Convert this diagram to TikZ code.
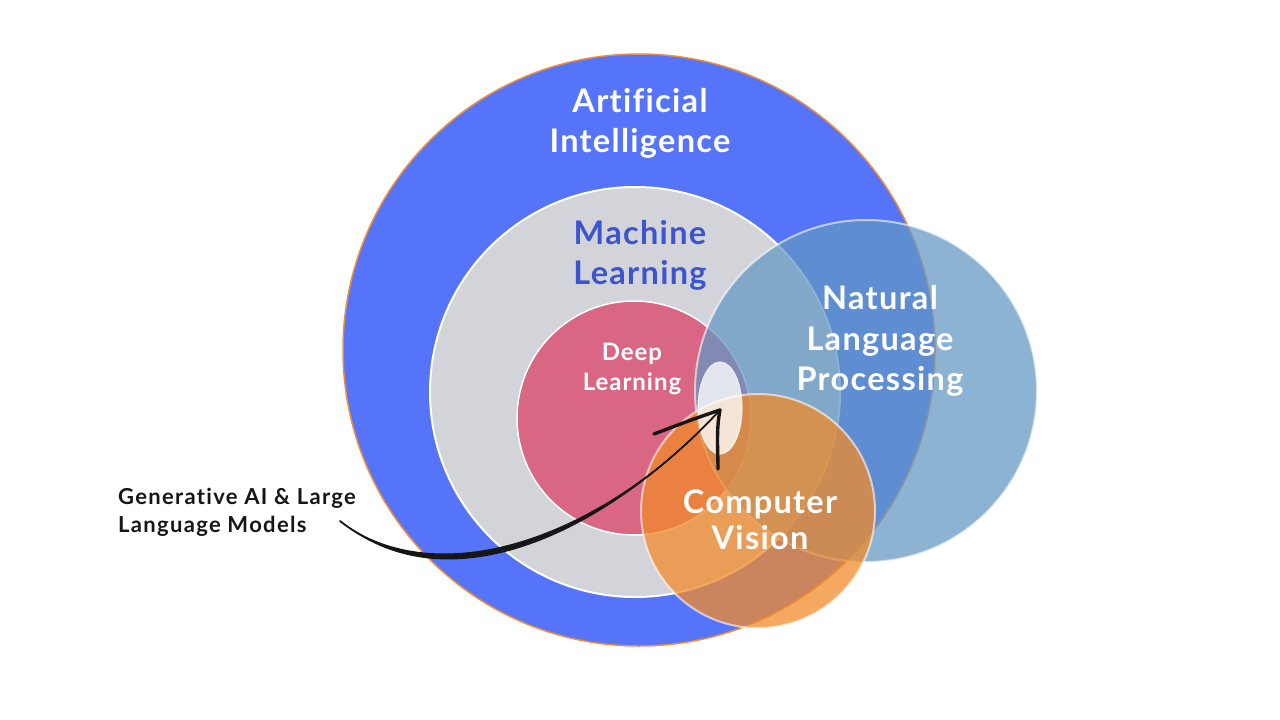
\documentclass[tikz,border=0pt]{standalone}
\usepackage{fontspec}
\setmainfont{Lato}
\newfontfamily\labelfont[LetterSpace=4,Ligatures={NoCommon}]{Lato}
\newfontfamily\genfont[LetterSpace=6,Ligatures={NoCommon}]{Lato}
\definecolor{aiblue}{RGB}{86,116,249}
\definecolor{aiedge}{RGB}{238,140,60}
\definecolor{mlgray}{RGB}{211,212,217}
\definecolor{dlpink}{RGB}{217,102,130}
\definecolor{nlpblue}{RGB}{99,151,196}
\definecolor{cvorange}{RGB}{241,139,43}
\definecolor{mltext}{RGB}{60,84,208}
\definecolor{ink}{RGB}{22,22,22}
\tikzset{
  bigtext/.style={font=\labelfont\bfseries\fontsize{32.5}{38}\selectfont, text=white, anchor=base, inner sep=0pt},
  mltextstyle/.style={bigtext, text=mltext},
  dltext/.style={font=\labelfont\bfseries\fontsize{24}{28}\selectfont, text=white, anchor=base, inner sep=0pt},
  gentext/.style={font=\genfont\bfseries\fontsize{22}{26}\selectfont, text=ink, anchor=base west, inner sep=0pt},
  brush/.style={line width=3.4pt, draw=ink, line cap=round, line join=round},
}
\begin{document}
\begin{tikzpicture}[x=1pt,y=-1pt]
\useasboundingbox (0,0) rectangle (1280,720);
\fill[white] (0,0) rectangle (1280,720);
% circles
\draw[draw=aiedge, line width=1.5pt, fill=aiblue] (639,350) circle[radius=296pt];
\draw[draw=white, line width=2pt, fill=mlgray] (635,392) circle[radius=205pt];
\draw[draw=white, line width=1.5pt, fill=dlpink] (634,418) circle[radius=117pt];
\draw[draw=white, draw opacity=0.6, line width=2pt, fill=nlpblue, fill opacity=0.73] (866,391) circle[radius=171pt];
\draw[draw=white, draw opacity=0.6, line width=2pt, fill=cvorange, fill opacity=0.75] (758,511) circle[radius=117pt];
\draw[draw=white, draw opacity=0.7, line width=1.2pt, fill=white, fill opacity=0.78] (720,408) ellipse[x radius=22pt, y radius=46pt];
% labels
\node[bigtext] (ai1) at (640,112) {Artificial};
\node[bigtext] (ai2) at (640,152) {Intelligence};
\node[mltextstyle] (ml1) at (640,244) {Machine};
\node[mltextstyle] (ml2) at (640,284) {Learning};
\node[dltext] (dl1) at (632,360) {Deep};
\node[dltext] (dl2) at (632,390) {Learning};
\node[bigtext] (nlp1) at (880,309) {Natural};
\node[bigtext] (nlp2) at (880,350) {Language};
\node[bigtext] (nlp3) at (880,390) {Processing};
\node[bigtext] (cv1) at (760,513) {Computer};
\node[bigtext] (cv2) at (760,549) {Vision};
\node[gentext] (gen1) at (118,504) {Generative AI \& Large};
\node[gentext] (gen2) at (118,532) {Language Models};
% arrow
\coordinate (arrowstart) at (340,521);
\coordinate (arrowtip) at (720,410);
\coordinate (barbleft) at (654,434);
\coordinate (barbdown) at (718,469);
\fill[ink] (arrowstart) .. controls (440,595) and (603,536) .. (arrowtip)
   .. controls (597,544) and (440,605) .. (arrowstart) -- cycle;
\draw[brush, line width=1.8pt] (arrowstart) .. controls (440,600) and (600,540) .. (arrowtip);
\draw[brush] (arrowtip) .. controls (690,420) and (670,428) .. (barbleft);
\draw[brush] (arrowtip) .. controls (716,430) and (718,450) .. (barbdown);
\end{tikzpicture}
\end{document}
